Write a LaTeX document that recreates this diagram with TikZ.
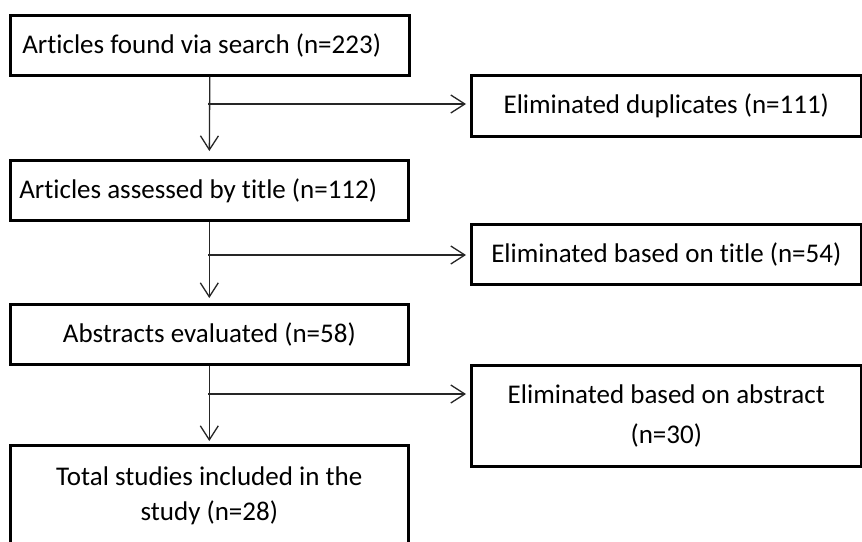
\documentclass[tikz,border=0pt]{standalone}
\usepackage{fontspec}
\setmainfont{Carlito}[RawFeature=-liga]
\usetikzlibrary{arrows.meta}
\begin{document}
\begin{tikzpicture}[x=1pt,y=-1pt,
  box/.style={draw=black, line width=2.6pt, inner sep=0pt, anchor=north west,
    font=\fontsize{27}{35}\selectfont},
  conn/.style={draw=black!85, line width=1.3pt},
  arr/.style={conn, -{Straight Barb[length=14pt,width=18pt,line width=1.3pt]}}]
\useasboundingbox (0,0) rectangle (862,541);
\clip (0,0) rectangle (862,541);
\fill[white] (0,0) rectangle (862,541);
% left column
\node[box, minimum width=398pt, minimum height=60pt, text width=375pt, inner xsep=12pt, align=flush left] (b1) at (9,14) {Articles found via search (n=223)};
\node[box, minimum width=398pt, minimum height=60pt, text width=380pt, inner xsep=9pt, align=flush left] (b3) at (9,159) {Articles assessed by title (n=112)};
\node[box, minimum width=398pt, minimum height=60pt, align=center] (b5) at (9,303) {Abstracts evaluated (n=58)};
\node[box, minimum width=398pt, minimum height=101pt, align=center] (b7) at (9,444) {Total studies included in the\\ study (n=28)};
% right column
\node[box, minimum width=390pt, minimum height=61pt, align=center] (b2) at (470,74) {Eliminated duplicates (n=111)};
\node[box, minimum width=390pt, minimum height=60pt, align=center] (b4) at (470,223) {Eliminated based on title (n=54)};
\node[box, minimum width=390pt, minimum height=101pt, align=center, font=\fontsize{27}{40}\selectfont] (b6) at (470,364) {Eliminated based on abstract\\ (n=30)};
% junctions
\coordinate (j1) at (208,104);
\coordinate (j2) at (208,255);
\coordinate (j3) at (208,394);
% connectors
\draw[arr, shorten >=8pt] (b1.south) -- (b3.north);
\draw[arr, shorten >=4pt] (j1) -- (b2.west |- j1);
\draw[arr, shorten >=5pt] (b3.south) -- (b5.north);
\draw[arr, shorten >=4pt] (j2) -- (b4.west |- j2);
\draw[arr, shorten >=3pt] (b5.south) -- (b7.north);
\draw[arr, shorten >=4pt] (j3) -- (b6.west |- j3);
\end{tikzpicture}
\end{document}
